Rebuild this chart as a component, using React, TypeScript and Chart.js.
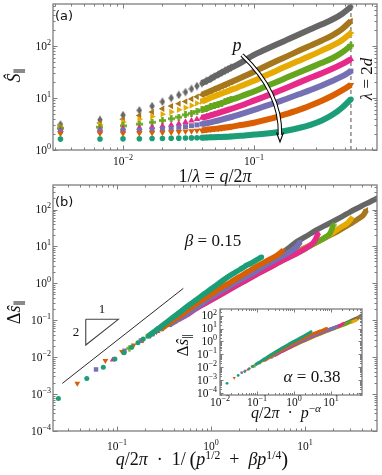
import React, { useEffect, useRef } from 'react';
import { Chart, registerables } from 'chart.js';

Chart.register(...registerables);

const W = 382;
const H = 475;

// ---------------- data ----------------
// series ordered from smallest p (teal) to largest p (gray)
const seriesColors = ['#1b9e77', '#d95f02', '#7570b3', '#e7298a', '#66a61e', '#e6ab02', '#a6761d', '#666666'];

// Panel (a): q/2pi values and S_parallel for each p
const aQ = [0.00333, 0.00667, 0.01, 0.01333, 0.01667, 0.02, 0.02333, 0.02667, 0.03, 0.03333, 0.03667, 0.04, 0.04333, 0.04667, 0.05, 0.05333, 0.05667, 0.06, 0.06333, 0.06667, 0.075, 0.085, 0.1, 0.12, 0.15, 0.18, 0.22, 0.27, 0.33, 0.4, 0.47, 0.55];
const aS1 = [1.62, 1.63, 1.64, 1.65, 1.66, 1.67, 1.68, 1.69, 1.7, 1.71, 1.72, 1.73, 1.74, 1.75, 1.76, 1.77, 1.78, 1.79, 1.8, 1.82, 1.86, 1.9, 1.98, 2.06, 2.2, 2.38, 2.65, 3.05, 3.7, 4.8, 6.5, 9.5];
const aS2 = [2.08, 2.09, 2.1, 2.12, 2.14, 2.17, 2.2, 2.24, 2.28, 2.32, 2.36, 2.4, 2.45, 2.5, 2.55, 2.6, 2.65, 2.7, 2.75, 2.8, 2.95, 3.1, 3.35, 3.75, 4.35, 5.0, 5.9, 7.2, 8.9, 11.2, 14, 18];
const aS3 = [2.3, 2.33, 2.37, 2.42, 2.48, 2.55, 2.63, 2.72, 2.82, 2.93, 3.04, 3.16, 3.28, 3.4, 3.55, 3.7, 3.85, 4.0, 4.15, 4.3, 4.7, 5.2, 5.9, 6.9, 8.3, 9.8, 11.8, 14.3, 17.5, 21.5, 26, 33];
const aS4 = [2.42, 2.48, 2.57, 2.67, 2.78, 2.9, 3.05, 3.22, 3.45, 3.68, 3.92, 4.15, 4.4, 4.65, 4.9, 5.15, 5.4, 5.65, 5.9, 6.15, 6.8, 7.6, 8.9, 10.6, 13.2, 16, 19.8, 24.5, 30, 37, 45, 56];
const aS5 = [2.62, 2.75, 2.92, 3.15, 3.42, 3.7, 4.0, 4.3, 4.75, 5.1, 5.5, 5.9, 6.3, 6.75, 7.2, 7.6, 8.0, 8.4, 8.8, 9.2, 10.2, 11.5, 13.4, 16.3, 20.5, 25, 31, 38.5, 47.5, 59, 75, 102];
const aS6 = [2.75, 3.05, 3.45, 3.9, 4.4, 4.9, 5.4, 5.95, 6.5, 7.2, 7.9, 8.6, 9.3, 10.1, 10.8, 11.5, 12.2, 12.9, 13.6, 14.3, 16, 18.2, 21.5, 26.5, 34, 42, 52, 65, 82, 103, 130, 178];
const aS7 = [2.9, 3.3, 3.9, 4.6, 5.4, 6.2, 7.0, 7.8, 8.6, 9.6, 10.6, 11.6, 12.6, 13.6, 14.8, 15.8, 16.9, 18.0, 19.1, 20.2, 23, 26.5, 32, 40, 52, 64, 81, 102, 128, 163, 212, 305];
const aS8 = [3.1, 3.8, 4.7, 5.8, 7.0, 8.5, 10.0, 11.5, 13.0, 15.0, 17.0, 19.2, 21.3, 23.5, 26.0, 28.3, 30.8, 33.3, 35.8, 38.3, 44, 53, 68, 84, 108, 133, 167, 210, 262, 328, 415, 570];
const lambdaEq2d = 0.55;

// Panel (b): rescaled q and Delta s
const bX1 = [0.0238, 0.0477, 0.0715, 0.095, 0.119, 0.143, 0.167, 0.19, 0.214, 0.238, 0.262, 0.3, 0.35, 0.42, 0.5, 0.6, 0.7, 0.85, 1.0, 1.2, 1.4, 1.7, 2.0, 2.3, 2.6, 3.0, 3.46];
const bY1 = [7.6e-4, 2.66e-3, 5.3e-3, 8.9e-3, 0.0132, 0.0185, 0.0246, 0.031, 0.037, 0.045, 0.054, 0.07, 0.095, 0.135, 0.19, 0.27, 0.36, 0.52, 0.7, 0.98, 1.3, 1.8, 2.3, 2.9, 3.4, 4.2, 5.2];
const bX2 = [0.0378, 0.0752, 0.113, 0.15, 0.188, 0.226, 0.263, 0.3, 0.35, 0.42, 0.5, 0.6, 0.75, 1.0, 1.3, 1.6, 2.0, 2.5, 3.0, 3.6, 4.3, 5.0, 5.87];
const bY2 = [1.94e-3, 8e-3, 0.0141, 0.021, 0.029, 0.038, 0.048, 0.06, 0.08, 0.11, 0.15, 0.21, 0.32, 0.5, 0.78, 1.05, 1.5, 2.1, 2.8, 3.6, 4.6, 5.7, 7.8];
const bX3 = [0.0598, 0.12, 0.179, 0.239, 0.299, 0.36, 0.42, 0.5, 0.6, 0.75, 1.0, 1.4, 2.0, 2.8, 4.0, 5.0, 6.0, 7.2, 8.0, 8.85];
const bY3 = [4.65e-3, 0.0149, 0.028, 0.042, 0.058, 0.075, 0.095, 0.125, 0.17, 0.25, 0.42, 0.7, 1.2, 1.9, 3.3, 4.5, 5.8, 7.6, 9.4, 13];
const bX4 = [0.09, 0.18, 0.27, 0.36, 0.45, 0.55, 0.7, 0.9, 1.2, 1.6, 2.2, 3.0, 4.0, 5.5, 7.0, 9.0, 11.0, 12.5, 13.8];
const bY4 = [8.5e-3, 0.027, 0.05, 0.075, 0.105, 0.14, 0.21, 0.3, 0.46, 0.7, 1.1, 1.7, 2.5, 3.9, 5.3, 7.4, 10, 13.5, 22.6];
const bX5 = [0.135, 0.27, 0.405, 0.54, 0.7, 0.9, 1.2, 1.6, 2.2, 3.0, 4.0, 5.5, 7.5, 10, 13, 16, 18.5, 20];
const bY5 = [0.0174, 0.055, 0.1, 0.15, 0.22, 0.31, 0.46, 0.7, 1.1, 1.7, 2.5, 3.9, 5.8, 8.5, 12.5, 17, 23, 38];
const bX6 = [0.21, 0.42, 0.63, 0.84, 1.1, 1.5, 2.0, 2.8, 4.0, 5.5, 7.5, 10, 14, 19, 24, 28, 31.4];
const bY6 = [0.037, 0.11, 0.2, 0.3, 0.44, 0.7, 1.05, 1.7, 2.7, 4.0, 6.0, 9.0, 14, 22, 33, 42, 58];
const bX7 = [0.3, 0.6, 0.9, 1.2, 1.6, 2.2, 3.0, 4.2, 6.0, 8.5, 12, 17, 23, 30, 37, 42, 45];
const bY7 = [0.065, 0.2, 0.38, 0.58, 0.9, 1.4, 2.1, 3.2, 5.0, 7.7, 11.5, 18, 27, 40, 56, 72, 97];
const bX8 = [0.42, 0.84, 1.26, 1.7, 2.3, 3.2, 4.5, 6.5, 8.2, 10, 13, 16, 20, 25, 30, 35, 40, 50, 58, 66];
const bY8 = [0.11, 0.35, 0.65, 1.1, 1.7, 2.8, 4.5, 8.5, 13.5, 18, 27, 36, 48, 65, 85, 105, 125, 165, 200, 240];
const slopeLineX = [0.0262, 0.507];
const slopeLineY = [1.95e-3, 0.73];
const slopeTriX = [0.0465, 0.1033, 0.0465, 0.0465];
const slopeTriY = [0.106, 0.106, 0.0213, 0.106];

// Inset: q/2pi * p^-alpha and Delta s
const iX1 = [0.0155, 0.031, 0.0465, 0.062, 0.0775, 0.093, 0.11, 0.14, 0.18, 0.25, 0.35, 0.5, 0.7, 1.0, 1.4, 2.0, 2.9];
const iY1 = [5.6e-4, 2.3e-3, 4.6e-3, 7.8e-3, 0.0118, 0.0165, 0.022, 0.035, 0.055, 0.1, 0.18, 0.33, 0.58, 1.0, 1.7, 3.0, 5.6];
const iX2 = [0.0243, 0.0486, 0.073, 0.097, 0.12, 0.15, 0.2, 0.3, 0.45, 0.7, 1.0, 1.5, 2.2, 3.2, 4.5, 6.0, 7.7];
const iY2 = [1.5e-3, 5.5e-3, 0.011, 0.017, 0.024, 0.034, 0.055, 0.11, 0.21, 0.42, 0.75, 1.35, 2.3, 3.8, 5.6, 7.6, 10.4];
const iX3 = [0.0386, 0.077, 0.116, 0.155, 0.2, 0.3, 0.45, 0.7, 1.0, 1.5, 2.3, 3.5, 5.5, 8.0, 11, 14.3];
const iY3 = [3.8e-3, 0.012, 0.022, 0.034, 0.05, 0.095, 0.18, 0.36, 0.6, 1.05, 1.8, 3.1, 5.2, 7.6, 10, 13.8];
const iX4 = [0.057, 0.115, 0.17, 0.23, 0.3, 0.45, 0.7, 1.0, 1.5, 2.3, 3.5, 5.5, 8.5, 13, 18, 21.5];
const iY4 = [6.5e-3, 0.02, 0.037, 0.055, 0.08, 0.15, 0.3, 0.52, 0.92, 1.6, 2.7, 4.6, 7.5, 12, 17, 25];
const iX5 = [0.085, 0.17, 0.255, 0.34, 0.5, 0.75, 1.1, 1.7, 2.6, 4.0, 6.0, 9.0, 13, 19, 26, 32.7];
const iY5 = [0.012, 0.037, 0.066, 0.1, 0.18, 0.32, 0.55, 1.0, 1.7, 2.9, 4.6, 7.2, 10.8, 16, 23, 33.7];
const iX6 = [0.13, 0.26, 0.39, 0.52, 0.75, 1.1, 1.7, 2.6, 4.0, 6.0, 9.0, 14, 21, 30, 40, 49.5];
const iY6 = [0.024, 0.07, 0.13, 0.19, 0.31, 0.52, 0.95, 1.6, 2.8, 4.4, 7.0, 11.5, 17.5, 26, 35, 45.6];
const iX7 = [0.19, 0.38, 0.57, 0.76, 1.1, 1.6, 2.4, 3.6, 5.5, 8.5, 13, 20, 30, 42, 53, 60.8];
const iY7 = [0.045, 0.13, 0.24, 0.36, 0.55, 0.9, 1.5, 2.5, 4.1, 6.8, 10.8, 17.5, 27, 41, 58, 82];
const iX8 = [0.28, 0.56, 0.84, 1.12, 1.6, 2.4, 3.6, 5.5, 8.5, 13, 20, 30, 45, 60, 75];
const iY8 = [0.08, 0.25, 0.45, 0.65, 1.05, 1.75, 2.9, 4.8, 8, 13, 21, 34, 58, 90, 130];

// where the dense (merged-marker) band starts for each series
const aBandFrom = [0.039, 0.039, 0.039, 0.039, 0.039, 0.039, 0.039, 0.039];
const bBandFrom = [0.2, 0.28, 0.35, 0.4, 0.5, 0.8, 1.1, 1.5];
const iBandFrom = [0.09, 0.14, 0.2, 0.3, 0.4, 0.6, 0.8, 1.1];

// ---------------- drawing helpers ----------------
const SERIF = '"Liberation Serif", "DejaVu Serif", serif';
const SANS = '"DejaVu Sans", "Liberation Sans", sans-serif';
const FRAME = '#7d7d7d';

type Seg = { t: string; i?: boolean; k?: number; dy?: number };
const SUP = { k: 0.7, dy: -0.4 };
const SUB = { k: 0.7, dy: 0.25 };

function segFont(s: Seg, size: number) {
  return `${s.i ? 'italic ' : ''}${(size * (s.k ?? 1)).toFixed(2)}px ${SERIF}`;
}
function drawRich(ctx: CanvasRenderingContext2D, segs: Seg[], x: number, y: number, size: number, align: 'left' | 'center' | 'right') {
  const ws = segs.map((s) => {
    ctx.font = segFont(s, size);
    return ctx.measureText(s.t).width;
  });
  const tot = ws.reduce((a, b) => a + b, 0);
  let cx = align === 'left' ? x : align === 'right' ? x - tot : x - tot / 2;
  ctx.textAlign = 'left';
  ctx.textBaseline = 'alphabetic';
  segs.forEach((s, j) => {
    ctx.font = segFont(s, size);
    ctx.fillText(s.t, cx, y + (s.dy ?? 0) * size);
    cx += ws[j];
  });
}
function drawRotated(ctx: CanvasRenderingContext2D, segs: Seg[], cx: number, cy: number, size: number) {
  ctx.save();
  ctx.translate(cx, cy);
  ctx.rotate(-Math.PI / 2);
  drawRich(ctx, segs, 0, size * 0.33, size, 'center');
  ctx.restore();
}
function powSegs(n: number): Seg[] {
  return [{ t: '10' }, { t: n < 0 ? '\u2212' + Math.abs(n) : String(n), k: 0.7, dy: -0.42 }];
}
function logTicks(min: number, max: number) {
  const out: { v: number; major: boolean; n: number }[] = [];
  for (let n = Math.floor(Math.log10(min)) - 1; n <= Math.ceil(Math.log10(max)); n++) {
    for (let m = 1; m <= 9; m++) {
      const v = m * Math.pow(10, n);
      if (v >= min * 0.9995 && v <= max * 1.0005) out.push({ v, major: m === 1, n });
    }
  }
  return out;
}

function framePlugin(cfg: { xLabCY: number; yLabR: number; fs: number; major: number; minor: number; white?: boolean }) {
  return {
    id: 'frameTicks',
    beforeDatasetsDraw(chart: any) {
      if (!cfg.white) return;
      const a = chart.chartArea;
      const ctx = chart.ctx;
      ctx.save();
      ctx.fillStyle = '#ffffff';
      ctx.fillRect(a.left, a.top, a.right - a.left, a.bottom - a.top);
      ctx.restore();
    },
    afterDatasetsDraw(chart: any) {
      const ctx: CanvasRenderingContext2D = chart.ctx;
      const a = chart.chartArea;
      const xs = chart.scales.x;
      const ys = chart.scales.y;
      const xt = logTicks(xs.min, xs.max);
      const yt = logTicks(ys.min, ys.max);
      ctx.save();
      ctx.strokeStyle = FRAME;
      ctx.lineWidth = 1;
      ctx.beginPath();
      for (const t of xt) {
        const p = Math.round(xs.getPixelForValue(t.v)) + 0.5;
        const L = t.major ? cfg.major : cfg.minor;
        ctx.moveTo(p, a.bottom);
        ctx.lineTo(p, a.bottom - L);
        ctx.moveTo(p, a.top);
        ctx.lineTo(p, a.top + L);
      }
      for (const t of yt) {
        const p = Math.round(ys.getPixelForValue(t.v)) + 0.5;
        const L = t.major ? cfg.major : cfg.minor;
        ctx.moveTo(a.left, p);
        ctx.lineTo(a.left + L, p);
        ctx.moveTo(a.right, p);
        ctx.lineTo(a.right - L, p);
      }
      ctx.stroke();
      ctx.lineWidth = 1.3;
      ctx.strokeRect(a.left, a.top, a.right - a.left, a.bottom - a.top);
      ctx.fillStyle = '#111111';
      for (const t of xt) if (t.major) drawRich(ctx, powSegs(t.n), xs.getPixelForValue(t.v), cfg.xLabCY + cfg.fs * 0.33, cfg.fs, 'center');
      for (const t of yt) if (t.major) drawRich(ctx, powSegs(t.n), cfg.yLabR, ys.getPixelForValue(t.v) + cfg.fs * 0.33, cfg.fs, 'right');
      ctx.restore();
    },
  };
}
function notesPlugin(draw: (ctx: CanvasRenderingContext2D) => void) {
  return {
    id: 'notes',
    afterDraw(chart: any) {
      const ctx = chart.ctx;
      ctx.save();
      ctx.fillStyle = '#111111';
      draw(ctx);
      ctx.restore();
    },
  };
}

function plusCanvas(color: string, size: number, thick: number) {
  const n = Math.ceil(size);
  const c = document.createElement('canvas');
  c.width = n;
  c.height = n;
  const g = c.getContext('2d')!;
  g.fillStyle = color;
  const m = n / 2;
  g.fillRect(m - thick / 2, m - size / 2, thick, size);
  g.fillRect(m - size / 2, m - thick / 2, size, thick);
  return c;
}
function diamondCanvas(color: string, w: number, h: number) {
  const cw = Math.ceil(w);
  const ch = Math.ceil(h);
  const c = document.createElement('canvas');
  c.width = cw;
  c.height = ch;
  const g = c.getContext('2d')!;
  g.fillStyle = color;
  g.beginPath();
  g.moveTo(cw / 2, ch / 2 - h / 2);
  g.lineTo(cw / 2 + w / 2, ch / 2);
  g.lineTo(cw / 2, ch / 2 + h / 2);
  g.lineTo(cw / 2 - w / 2, ch / 2);
  g.closePath();
  g.fill();
  return c;
}
type Mk = { style: any; rot: number; r: number };
function markers(s: number): Mk[] {
  return [
    { style: 'circle', rot: 0, r: 2.8 * s },
    { style: 'triangle', rot: 180, r: 3.7 * s },
    { style: 'rect', rot: 0, r: 3.5 * s },
    { style: 'triangle', rot: 0, r: 3.7 * s },
    { style: plusCanvas(seriesColors[4], 7 * s, 2.6 * s), rot: 0, r: 3 },
    { style: 'triangle', rot: 90, r: 3.7 * s },
    { style: 'triangle', rot: 270, r: 3.7 * s },
    { style: diamondCanvas(seriesColors[7], 5.5 * s, 8.5 * s), rot: 0, r: 3 },
  ];
}
// markers are drawn where the samples are still resolved; further right the
// merged markers read as a continuous band (thick line through the same data)
function seriesSets(xs: number[][], ys: number[][], from: number[], markUpTo: number[], lw: number, mk: Mk[]) {
  return ys.map((yy, i) => {
    const color = seriesColors[i];
    const thr = from[i];
    const lastMark = markUpTo[i];
    const n = xs[i].length;
    return {
      data: xs[i].map((x, j) => ({ x, y: yy[j] })),
      showLine: true,
      borderColor: color,
      backgroundColor: color,
      borderWidth: lw,
      pointRadius: (c: any) => (c.raw && (c.raw.x <= lastMark || c.dataIndex === n - 1) ? mk[i].r : 0),
      pointStyle: mk[i].style,
      pointRotation: mk[i].rot,
      pointBorderWidth: 0,
      pointBackgroundColor: color,
      pointBorderColor: color,
      cubicInterpolationMode: 'monotone',
      clip: 0,
      segment: { borderColor: (c: any) => (c.p0.parsed.x < thr ? 'rgba(0,0,0,0)' : undefined) },
    };
  });
}
function plainLine(xs: number[], ys: number[], color: string, width: number, dash: number[] = []) {
  return {
    data: xs.map((x, j) => ({ x, y: ys[j] })),
    showLine: true,
    borderColor: color,
    borderWidth: width,
    borderDash: dash,
    pointRadius: 0,
    clip: 0,
  };
}
function logAxis(min: number, max: number) {
  return { type: 'logarithmic', min, max, display: false, bounds: 'data' };
}
function baseOptions(padding: any, xr: number[], yr: number[]) {
  return {
    responsive: false,
    animation: false,
    devicePixelRatio: 1,
    events: [],
    layout: { padding },
    plugins: { legend: { display: false }, tooltip: { enabled: false } },
    scales: { x: logAxis(xr[0], xr[1]), y: logAxis(yr[0], yr[1]) },
  };
}

// ---------------- charts ----------------
function makeA(cv: HTMLCanvasElement) {
  const mk = markers(1);
  const sets: any[] = seriesSets(
    [aQ, aQ, aQ, aQ, aQ, aQ, aQ, aQ],
    [aS1, aS2, aS3, aS4, aS5, aS6, aS7, aS8],
    aBandFrom,
    [0.07, 0.07, 0.07, 0.07, 0.07, 0.07, 0.07, 0.07],
    6,
    mk
  );
  sets.push(plainLine([lambdaEq2d, lambdaEq2d], [1, 645], '#8a8a8a', 1.5, [4, 3]));
  return new Chart(cv, {
    type: 'scatter',
    data: { datasets: sets },
    options: baseOptions({ left: 53, top: 4, right: 5, bottom: 325 }, [0.00292, 0.87], [1, 645]) as any,
    plugins: [
      framePlugin({ xLabCY: 161, yLabR: 51, fs: 11.5, major: 4.5, minor: 2.5 }),
      notesPlugin((ctx) => {
        ctx.font = `13px ${SANS}`;
        ctx.textAlign = 'left';
        ctx.textBaseline = 'alphabetic';
        ctx.fillText('(a)', 55, 20);
        drawRotated(ctx, [{ t: '\u015C', i: true }, { t: '\u2225', ...SUB }], 14, 75, 18);
        drawRich(ctx, [{ t: '1/' }, { t: '\u03BB', i: true }, { t: ' = ' }, { t: 'q', i: true }, { t: '/2' }, { t: '\u03C0', i: true }], 215, 182, 18, 'center');
        drawRich(ctx, [{ t: 'p', i: true }], 237, 51, 18, 'center');
        drawRotated(ctx, [{ t: '\u03BB', i: true }, { t: ' = 2' }, { t: 'd', i: true }], 366, 79, 17);
        // arrow along increasing p
        ctx.lineCap = 'butt';
        ctx.beginPath();
        ctx.moveTo(242, 55);
        ctx.bezierCurveTo(262, 74, 281, 100, 280, 135);
        ctx.strokeStyle = '#000';
        ctx.lineWidth = 4.4;
        ctx.stroke();
        ctx.strokeStyle = '#fff';
        ctx.lineWidth = 2.4;
        ctx.stroke();
        ctx.beginPath();
        ctx.moveTo(276.5, 132.5);
        ctx.lineTo(280, 142);
        ctx.lineTo(283.5, 132.5);
        ctx.strokeStyle = '#000';
        ctx.lineWidth = 1.1;
        ctx.stroke();
      }),
    ],
  });
}

function makeB(cv: HTMLCanvasElement) {
  const mk = markers(0.9);
  const sets: any[] = seriesSets(
    [bX1, bX2, bX3, bX4, bX5, bX6, bX7, bX8],
    [bY1, bY2, bY3, bY4, bY5, bY6, bY7, bY8],
    bBandFrom,
    [0.3, 0.4, 0.5, 0.6, 0.7, 1.0, 1.3, 1.8],
    5.5,
    mk
  );
  sets.push(plainLine(slopeLineX, slopeLineY, '#111', 0.9));
  sets.push(plainLine(slopeTriX, slopeTriY, '#444', 1.1));
  return new Chart(cv, {
    type: 'scatter',
    data: { datasets: sets },
    options: baseOptions({ left: 53, top: 185, right: 5, bottom: 44 }, [0.02085, 58.3], [1e-4, 461]) as any,
    plugins: [
      framePlugin({ xLabCY: 446, yLabR: 51, fs: 11.5, major: 4.5, minor: 2.5 }),
      notesPlugin((ctx) => {
        ctx.font = `13px ${SANS}`;
        ctx.textAlign = 'left';
        ctx.textBaseline = 'alphabetic';
        ctx.fillText('(b)', 55, 206);
        drawRotated(ctx, [{ t: '\u0394' }, { t: '\u015D', i: true }, { t: '\u2225', ...SUB }], 14, 312, 18);
        drawRich(
          ctx,
          [
            { t: 'q', i: true },
            { t: '/2' },
            { t: '\u03C0', i: true },
            { t: '\u2002\u00B7\u20021/\u2009' },
            { t: '(', k: 1.15, dy: 0.03 },
            { t: 'p', i: true },
            { t: '1/2', k: 0.65, dy: -0.36 },
            { t: '\u2002+\u2002' },
            { t: '\u03B2', i: true },
            { t: 'p', i: true },
            { t: '1/4', k: 0.65, dy: -0.36 },
            { t: ')', k: 1.15, dy: 0.03 },
          ],
          202,
          465,
          18,
          'center'
        );
        drawRich(ctx, [{ t: '\u03B2', i: true }, { t: ' = 0.15' }], 213, 246, 17, 'center');
        drawRich(ctx, [{ t: '1' }], 102, 313, 13, 'center');
        drawRich(ctx, [{ t: '2' }], 76, 336, 13, 'center');
      }),
    ],
  });
}

function makeInset(cv: HTMLCanvasElement) {
  const mk = markers(0.5);
  const sets: any[] = seriesSets(
    [iX1, iX2, iX3, iX4, iX5, iX6, iX7, iX8],
    [iY1, iY2, iY3, iY4, iY5, iY6, iY7, iY8],
    iBandFrom,
    [0.12, 0.2, 0.3, 0.4, 0.6, 0.9, 1.2, 1.5],
    3,
    mk
  );
  return new Chart(cv, {
    type: 'scatter',
    data: { datasets: sets },
    options: baseOptions({ left: 220, top: 309, right: 20, bottom: 80 }, [0.01, 69], [7e-5, 325]) as any,
    plugins: [
      framePlugin({ xLabCY: 402, yLabR: 217, fs: 11.5, major: 3.5, minor: 2, white: true }),
      notesPlugin((ctx) => {
        drawRotated(ctx, [{ t: '\u0394' }, { t: '\u015D', i: true }, { t: '\u2225', ...SUB }], 182, 345, 17);
        drawRich(
          ctx,
          [{ t: 'q', i: true }, { t: '/2' }, { t: '\u03C0', i: true }, { t: '\u2002\u00B7\u2002' }, { t: 'p', i: true }, { t: '\u2212', ...SUP }, { t: '\u03B1', i: true, ...SUP }],
          286,
          418,
          16,
          'center'
        );
        drawRich(ctx, [{ t: '\u03B1', i: true }, { t: ' = 0.38' }], 312, 382, 17, 'center');
      }),
    ],
  });
}

function ChartCanvas({ make }: { make: (c: HTMLCanvasElement) => Chart }) {
  const ref = useRef<HTMLCanvasElement>(null);
  useEffect(() => {
    const ch = make(ref.current!);
    return () => ch.destroy();
  }, []);
  return <canvas ref={ref} width={W} height={H} style={{ position: 'absolute', left: 0, top: 0, width: W, height: H }} />;
}

export default function App() {
  return (
    <div style={{ position: 'absolute', left: 0, top: 0, width: W, height: H, background: '#ffffff', overflow: 'hidden' }}>
      <ChartCanvas make={makeA} />
      <ChartCanvas make={makeB} />
      <ChartCanvas make={makeInset} />
    </div>
  );
}
